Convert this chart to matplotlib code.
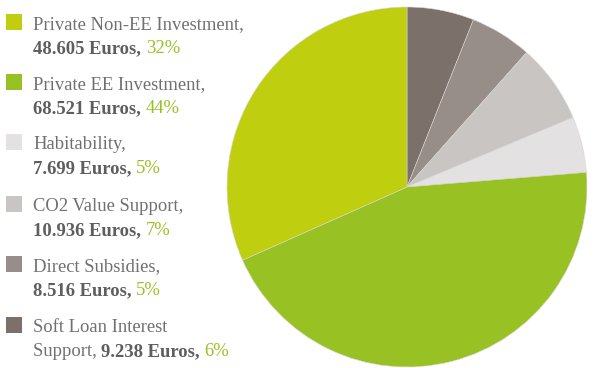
import matplotlib
matplotlib.use("Agg")
import matplotlib.pyplot as plt
from matplotlib.patches import Rectangle

# funding sources (thousand euros), listed top to bottom in the legend
labels = ["Private Non-EE Investment,", "Private EE Investment,", "Habitability,",
          "CO2 Value Support,", "Direct Subsidies,", "Soft Loan Interest"]
euros = [48.605, 68.521, 7.699, 10.936, 8.516, 9.238]
euro_text = ["48.605", "68.521", "7.699", "10.936", "8.516", "9.238"]
percents = ["32%", "44%", "5%", "7%", "5%", "6%"]
colors = ["#bfcf0f", "#98c123", "#e3e1e1", "#c9c5c2", "#978e89", "#7c706b"]

W, H = 593, 368
fig = plt.figure(figsize=(W / 100, H / 100), dpi=100)
fig.patch.set_facecolor("white")

# pie, drawn clockwise from 12 o'clock starting with the soft loan slice
ax = fig.add_axes([227 / W, 1 / H, 360 / W, 360 / H])
order = [5, 4, 3, 2, 1, 0]
ax.pie([euros[i] for i in order], colors=[colors[i] for i in order],
       startangle=90, counterclock=False, radius=1,
       wedgeprops=dict(linewidth=0.4, edgecolor="#d8d6d4"))
ax.set_xlim(-1, 1)
ax.set_ylim(-1, 1)
ax.set_aspect("equal")
ax.axis("off")

# legend built by hand so each line can mix plain, bold and green text
plt.rcParams["font.family"] = ["Liberation Serif", "DejaVu Serif"]
gray = "#707070"
dark = "#5e5e5e"
green = "#99c024"
fs = 13.4
renderer = fig.canvas.get_renderer()


def write_runs(x, y, runs):
    # place text pieces one after another on the same baseline (pixels)
    for s, color, weight in runs:
        t = fig.text(x / W, 1 - y / H, s, color=color, fontsize=fs,
                     fontweight=weight, va="baseline", ha="left")
        bb = t.get_window_extent(renderer)
        x += bb.width


rows_y = [29, 89, 149, 211, 271, 332]
for i, y in enumerate(rows_y):
    fig.patches.append(Rectangle((6 / W, 1 - (y + 1) / H), 16 / W, 16 / H,
                                 transform=fig.transFigure, color=colors[i],
                                 linewidth=0))
    write_runs(33, y, [(labels[i], gray, "normal")])
    if i < 5:
        write_runs(33, y + 24, [(euro_text[i] + " Euros, ", dark, "bold"),
                                (percents[i], green, "normal")])
    else:
        write_runs(33, y + 24, [("Support, ", gray, "normal"),
                                (euro_text[i] + " Euros, ", dark, "bold"),
                                (percents[i], green, "normal")])

fig.savefig("out.png", dpi=100)
